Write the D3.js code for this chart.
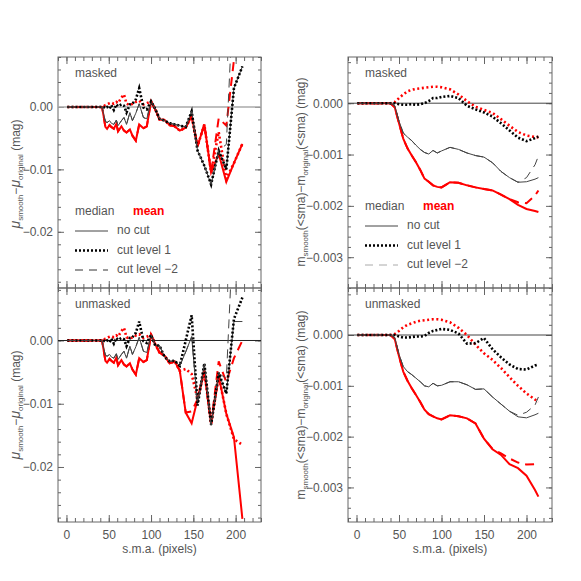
<!DOCTYPE html>
<html>
<head>
<meta charset="utf-8">
<script src="https://cdn.jsdelivr.net/npm/d3@7"></script>
<style>
  body { margin: 0; background: #fff; }
  text { font-family: "Liberation Sans", Arial, sans-serif; }
</style>
</head>
<body>
<svg id="chart" width="581" height="581"></svg>
<script>
// sma grids (pixels)
const smaLeft = [1, 10, 20, 30, 40, 42, 44, 46, 48, 51, 53, 56, 59, 61, 65, 68, 71, 75, 78, 82, 86, 91, 95, 100, 105, 110, 116, 122, 128, 134, 141, 148, 155, 163, 171, 180, 189, 198, 208]
const smaRight = [1, 10, 20, 30, 40, 45, 50, 55, 60, 65, 70, 75, 80, 85, 90, 95, 100, 110, 120, 130, 140, 150, 160, 170, 180, 190, 200, 210, 214]

// left panels: mu_smooth - mu_original, in mmag
const maskedMedianNoCut = [0, 0, 0, 0, 0, 0, -1.2, -2.3, -2.5, -2.2, -2.6, -2.8, -2.1, -3.0, -2.2, -1.7, -2.8, -0.9, -2.2, -1.0, 0.5, -1.7, -1.9, 0.9, -0.3, -1.9, -2.2, -2.6, -2.8, -3.0, -3.2, -0.7, -7.0, -9.4, -12.4, -7.0, -10.0, 3.0, 6.5]
const maskedMedianCut1 = [0, 0, 0, 0, 0, 0, 0, -0.2, 0, -0.3, 0.3, -0.5, 0.4, 0.1, 0.4, 0.2, -0.9, 0.4, 0.5, 1.2, 3.0, -0.1, -0.4, 0.9, -0.3, -1.9, -2.2, -2.6, -2.8, -3.0, -3.2, -0.7, -7.0, -9.4, -12.4, -7.0, -10.0, 3.0, 6.5]
const maskedMedianCut2 = [0, 0, 0, 0, 0, 0, -1.2, -2.3, -2.5, -2.2, -2.6, -2.8, -2.1, -3.0, -2.2, -1.7, -2.8, -0.9, -2.2, -1.0, 0.5, -1.7, -1.9, 0.9, -0.3, -1.9, -2.2, -2.6, -2.8, -3.0, -3.2, -0.7, -7.0, -9.4, -12.4, -7.0, -6.0, 20.0, null]
const maskedMeanNoCut = [0, 0, 0, 0, 0, 0, -1.5, -3.2, -3.5, -2.9, -3.2, -3.5, -2.7, -3.9, -3.1, -3.8, -4.1, -3.6, -4.6, -5.4, -2.8, -3.4, -3.1, 0.9, -0.4, -2.0, -2.1, -2.9, -3.1, -3.8, -3.3, -1.5, -6.3, -2.8, -10.5, -7.5, -12.0, -9.0, -5.9]
const maskedMeanCut1 = [0, 0, 0, 0, 0, 0, 0.1, 0.3, 0.4, 0.6, 0.7, 0.5, 0.8, 0.6, 1.5, 2.0, 0.5, 0.3, 0.5, 0.8, 1.0, 0.4, 0.6, 0.9, -0.4, -2.0, -2.1, -2.9, -3.1, -3.8, -3.3, -1.5, -6.3, -2.8, -10.5, -4.0, -11.5, -9.0, -5.9]
const maskedMeanCut2 = [0, 0, 0, 0, 0, 0, -1.5, -3.2, -3.5, -2.9, -3.2, -3.5, -2.7, -3.9, -3.1, -3.8, -4.1, -3.6, -4.6, -5.4, -2.8, -3.4, -3.1, 0.9, -0.4, -2.0, -2.1, -2.9, -3.1, -3.8, -3.3, -1.5, -6.3, -2.8, -10.5, -1.8, -3.0, 7.5, 20.0]

const unmaskedMedianNoCut = [0, 0, 0, 0, 0, 0, -1.2, -2.3, -2.5, -2.2, -2.6, -2.8, -2.1, -3.0, -2.2, -1.7, -2.8, -0.9, -2.2, -1.0, 0.5, -1.7, -1.9, 0.9, -0.8, -0.8, -2.6, -3.3, -3.2, -4.0, -1.8, 0.6, -10.0, -3.7, -13.4, -5.2, -8.4, 3.0, 3.0]
const unmaskedMedianCut1 = [0, 0, 0, 0, 0, 0, 0, -0.2, 0, -0.3, 0.3, -0.5, 0.4, 0.1, 0.4, 0.2, -0.9, 0.4, 0.5, 1.2, 3.0, -0.1, -0.4, 0.9, -0.8, -0.8, -2.6, -3.3, -3.2, -4.0, 0.0, 4.0, -10.3, -3.6, -13.3, -5.1, -8.4, 3.4, 6.8]
const unmaskedMedianCut2 = [0, 0, 0, 0, 0, 0, -1.2, -2.3, -2.5, -2.2, -2.6, -2.8, -2.1, -3.0, -2.2, -1.7, -2.8, -0.9, -2.2, -1.0, 0.5, -1.7, -1.9, 0.9, -0.8, -0.8, -2.6, -3.3, -3.2, -4.0, -1.8, 0.6, -10.0, -3.7, -13.4, -5.2, -6.0, 20.0, null]
const unmaskedMeanNoCut = [0, 0, 0, 0, 0, 0, -1.5, -3.2, -3.5, -2.9, -3.2, -3.5, -2.7, -3.9, -3.1, -3.8, -4.1, -3.6, -4.6, -5.4, -2.8, -3.4, -3.1, 0.9, -0.6, -1.9, -2.4, -3.6, -3.3, -4.8, -11.4, -13.1, -9.3, -4.8, -13.2, -5.6, -11.6, -15.3, -28.2]
const unmaskedMeanCut1 = [0, 0, 0, 0, 0, 0, 0.1, 0.3, 0.4, 0.6, 0.7, 0.5, 0.8, 0.6, 1.5, 2.0, 0.5, 0.3, 0.5, 0.8, 1.0, 0.4, 0.6, 0.9, -0.6, -1.9, -2.4, -3.6, -3.3, -4.8, -4.5, -5.3, -9.3, -4.8, -13.2, -5.6, -11.6, -15.6, -16.5]
const unmaskedMeanCut2 = [0, 0, 0, 0, 0, 0, -1.5, -3.2, -3.5, -2.9, -3.2, -3.5, -2.7, -3.9, -3.1, -3.8, -4.1, -3.6, -4.6, -5.4, -2.8, -3.4, -3.1, 0.9, -0.6, -1.9, -2.4, -3.6, -3.3, -4.8, -11.4, -11.2, -9.3, -4.8, -13.2, -3.3, -6.6, -2.8, 0.0]

// right panels: m_smooth(<sma) - m_original(<sma), in mmag
const cumMaskedMedianNoCut = [0, 0, 0, 0, 0, -0.05, -0.35, -0.58, -0.66, -0.73, -0.82, -0.90, -0.96, -0.99, -0.92, -0.97, -0.93, -0.86, -0.90, -0.97, -1.02, -1.05, -1.16, -1.33, -1.45, -1.54, -1.53, -1.48, -1.45]
const cumMaskedMedianCut1 = [0, 0, 0, 0, 0, 0, -0.02, -0.03, -0.03, -0.02, -0.03, -0.02, 0.0, 0.04, 0.10, 0.10, 0.12, 0.14, 0.10, -0.05, -0.12, -0.18, -0.26, -0.39, -0.53, -0.67, -0.74, -0.68, -0.65]
const cumMaskedMedianCut2 = [0, 0, 0, 0, 0, -0.05, -0.35, -0.58, -0.66, -0.73, -0.82, -0.90, -0.96, -0.99, -0.92, -0.97, -0.93, -0.86, -0.90, -0.97, -1.02, -1.05, -1.16, -1.33, -1.45, -1.54, -1.45, -1.20, -1.03]
const cumMaskedMeanNoCut = [0, 0, 0, 0, 0, -0.08, -0.39, -0.69, -0.88, -1.02, -1.15, -1.30, -1.47, -1.53, -1.60, -1.63, -1.64, -1.54, -1.55, -1.60, -1.64, -1.67, -1.70, -1.78, -1.87, -1.98, -2.06, -2.10, -2.12]
const cumMaskedMeanCut1 = [0, 0, 0, 0, 0, 0.02, 0.10, 0.17, 0.23, 0.26, 0.28, 0.29, 0.30, 0.31, 0.32, 0.32, 0.31, 0.27, 0.17, 0.04, -0.07, -0.13, -0.19, -0.31, -0.44, -0.56, -0.63, -0.66, -0.66]
const cumMaskedMeanCut2 = [0, 0, 0, 0, 0, -0.08, -0.39, -0.69, -0.88, -1.02, -1.15, -1.30, -1.47, -1.53, -1.60, -1.63, -1.64, -1.54, -1.55, -1.60, -1.64, -1.67, -1.70, -1.78, -1.87, -1.93, -1.95, -1.80, -1.70]

const cumUnmaskedMedianNoCut = [0, 0, 0, 0, 0, -0.05, -0.38, -0.62, -0.72, -0.78, -0.85, -0.92, -1.00, -1.02, -0.95, -1.00, -0.99, -0.92, -0.92, -0.98, -1.07, -1.06, -1.22, -1.36, -1.50, -1.61, -1.63, -1.57, -1.54]
const cumUnmaskedMedianCut1 = [0, 0, 0, 0, 0, 0, -0.03, -0.05, -0.05, -0.04, -0.03, -0.03, -0.02, 0.04, 0.08, 0.10, 0.12, 0.10, 0.03, -0.17, -0.16, -0.06, -0.28, -0.44, -0.58, -0.67, -0.68, -0.60, -0.58]
const cumUnmaskedMedianCut2 = [0, 0, 0, 0, 0, -0.05, -0.38, -0.62, -0.72, -0.78, -0.85, -0.92, -1.00, -1.02, -0.95, -1.00, -0.99, -0.92, -0.92, -0.98, -1.07, -1.06, -1.22, -1.36, -1.50, -1.58, -1.52, -1.38, -1.22]
const cumUnmaskedMeanNoCut = [0, 0, 0, 0, 0, -0.08, -0.42, -0.72, -0.90, -1.05, -1.18, -1.32, -1.47, -1.56, -1.60, -1.64, -1.66, -1.58, -1.60, -1.64, -1.74, -2.04, -2.25, -2.36, -2.54, -2.62, -2.77, -3.05, -3.18]
const cumUnmaskedMeanCut1 = [0, 0, 0, 0, 0, 0.02, 0.08, 0.15, 0.20, 0.23, 0.26, 0.28, 0.29, 0.30, 0.31, 0.31, 0.30, 0.25, 0.14, 0.0, -0.19, -0.36, -0.49, -0.65, -0.83, -1.00, -1.15, -1.27, -1.32]
const cumUnmaskedMeanCut2 = [0, 0, 0, 0, 0, -0.08, -0.42, -0.72, -0.90, -1.05, -1.18, -1.32, -1.47, -1.56, -1.60, -1.64, -1.66, -1.58, -1.60, -1.64, -1.74, -2.04, -2.24, -2.33, -2.43, -2.51, -2.55, -2.54, -2.53]

const xMajorTicks = [0, 50, 100, 150, 200]
const leftMajorTicks = [-20, -10, 0]
const rightMajorTicks = [-3, -2, -1, 0]
const legendLabels = ['no cut', 'cut level 1', 'cut level \u22122']

const svg = d3.select('#chart')

const panels = [
  { id: 'tl', x0: 58, x1: 261, y0: 57, y1: 288, yDom: [-29, 8], side: 'left', label: 'masked', xLabels: false, zero: '#aaa', zeroW: 1.6,
    sma: smaLeft, med: [maskedMedianNoCut, maskedMedianCut1, maskedMedianCut2], mean: [maskedMeanNoCut, maskedMeanCut1, maskedMeanCut2] },
  { id: 'bl', x0: 58, x1: 261, y0: 288, y1: 522, yDom: [-28.7, 8.3], side: 'left', label: 'unmasked', xLabels: true, zero: '#222', zeroW: 1,
    sma: smaLeft, med: [unmaskedMedianNoCut, unmaskedMedianCut1, unmaskedMedianCut2], mean: [unmaskedMeanNoCut, unmaskedMeanCut1, unmaskedMeanCut2] },
  { id: 'tr', x0: 348, x1: 552, y0: 57, y1: 288, yDom: [-3.6, 0.9], side: 'right', label: 'masked', xLabels: false, zero: '#444', zeroW: 1,
    sma: smaRight, med: [cumMaskedMedianNoCut, cumMaskedMedianCut1, cumMaskedMedianCut2], mean: [cumMaskedMeanNoCut, cumMaskedMeanCut1, cumMaskedMeanCut2] },
  { id: 'br', x0: 348, x1: 552, y0: 288, y1: 522, yDom: [-3.68, 0.925], side: 'right', label: 'unmasked', xLabels: true, zero: '#444', zeroW: 1,
    sma: smaRight, med: [cumUnmaskedMedianNoCut, cumUnmaskedMedianCut1, cumUnmaskedMedianCut2], mean: [cumUnmaskedMeanNoCut, cumUnmaskedMeanCut1, cumUnmaskedMeanCut2] }
]

const medStyles = [
  { color: '#444', width: 1, dash: null },
  { color: '#000', width: 2.6, dash: '2,2' },
  { color: '#444', width: 1, dash: '9,6' }
]
const meanStyles = [
  { color: '#f00', width: 2, dash: null },
  { color: '#f00', width: 2.6, dash: '2,2.6' },
  { color: '#f00', width: 2, dash: '9,6' }
]

const fmtLeft = (d) => d3.format('.2f')(d / 1000)
const fmtRight = (d) => d3.format('.3f')(d / 1000)

panels.forEach((p) => {
  const x = d3.scaleLinear().domain([-10, 230]).range([p.x0, p.x1])
  const y = d3.scaleLinear().domain(p.yDom).range([p.y1, p.y0])

  svg.append('clipPath').attr('id', 'clip-' + p.id)
    .append('rect').attr('x', p.x0).attr('y', p.y0).attr('width', p.x1 - p.x0).attr('height', p.y1 - p.y0)

  const minorY = p.side === 'left' ? d3.range(-28, 8.01, 2) : d3.range(-36, 9, 2).map((v) => v / 10)
  const majorY = p.side === 'left' ? leftMajorTicks : rightMajorTicks
  const fmtY = p.side === 'left' ? fmtLeft : fmtRight
  const minorX = d3.range(-10, 231, 10)

  const axes = [
    [d3.axisBottom(x).tickValues(minorX).tickSize(-4).tickFormat(''), `translate(0,${p.y1})`],
    [d3.axisBottom(x).tickValues(xMajorTicks).tickSize(-7).tickPadding(8).tickFormat(p.xLabels ? d3.format('d') : ''), `translate(0,${p.y1})`],
    [d3.axisTop(x).tickValues(minorX).tickSize(-4).tickFormat(''), `translate(0,${p.y0})`],
    [d3.axisTop(x).tickValues(xMajorTicks).tickSize(-7).tickFormat(''), `translate(0,${p.y0})`],
    [d3.axisLeft(y).tickValues(minorY).tickSize(-3).tickFormat(''), `translate(${p.x0},0)`],
    [d3.axisLeft(y).tickValues(majorY).tickSize(-6).tickPadding(5).tickFormat(fmtY), `translate(${p.x0},0)`],
    [d3.axisRight(y).tickValues(minorY).tickSize(-3).tickFormat(''), `translate(${p.x1},0)`],
    [d3.axisRight(y).tickValues(majorY).tickSize(-6).tickFormat(''), `translate(${p.x1},0)`]
  ]
  axes.forEach(([ax, tr]) => {
    const g = svg.append('g').attr('transform', tr).call(ax)
    g.select('.domain').remove()
    g.selectAll('line').attr('stroke', '#666')
    g.selectAll('text').attr('fill', '#555').style('font-size', '12px')
      .style('font-family', '"Liberation Sans", Arial, sans-serif')
  })

  svg.append('rect')
    .attr('x', p.x0).attr('y', p.y0)
    .attr('width', p.x1 - p.x0).attr('height', p.y1 - p.y0)
    .attr('fill', 'none').attr('stroke', '#666').attr('stroke-width', 1)

  svg.append('line')
    .attr('x1', p.x0).attr('x2', p.x1)
    .attr('y1', y(0)).attr('y2', y(0))
    .attr('stroke', p.zero).attr('stroke-width', p.zeroW)

  const line = d3.line()
    .defined((d) => d[1] !== null)
    .x((d) => x(d[0]))
    .y((d) => y(d[1]))

  const plotG = svg.append('g').attr('clip-path', `url(#clip-${p.id})`)
  const drawSeries = (vals, st) => {
    plotG.append('path')
      .datum(p.sma.map((s, i) => [s, vals[i]]))
      .attr('d', line)
      .attr('fill', 'none')
      .attr('stroke', st.color)
      .attr('stroke-width', st.width)
      .attr('stroke-dasharray', st.dash)
  }
  p.mean.forEach((vals, i) => drawSeries(vals, meanStyles[i]))
  p.med.forEach((vals, i) => drawSeries(vals, medStyles[i]))

  svg.append('text')
    .text(p.label)
    .attr('x', p.x0 + 17).attr('y', p.y0 + 20)
    .attr('fill', '#555').style('font-size', '12px')

  if (p.xLabels) {
    svg.append('text')
      .text('s.m.a. (pixels)')
      .attr('x', (p.x0 + p.x1) / 2).attr('y', 553)
      .attr('text-anchor', 'middle')
      .attr('fill', '#555').style('font-size', '12px')
  }

  // legend in the upper panels
  if (!p.xLabels) {
    const lx = p.x0 + 17
    const ly = p.side === 'left' ? 215 : 210
    svg.append('text').text('median').attr('x', lx).attr('y', ly)
      .attr('fill', '#555').style('font-size', '12px')
    svg.append('text').text('mean').attr('x', lx + 58).attr('y', ly)
      .attr('fill', '#f00').style('font-size', '12px').style('font-weight', 'bold')
    const sampleStyles = [
      { color: '#444', width: 1, dash: null },
      { color: '#000', width: 2.6, dash: '2,2' },
      { color: p.side === 'left' ? '#333' : '#aaa', width: 1, dash: '8,6' }
    ]
    legendLabels.forEach((lab, i) => {
      const yy = ly + 19 + i * 19.5
      svg.append('line')
        .attr('x1', lx).attr('x2', lx + 33)
        .attr('y1', yy - 3).attr('y2', yy - 3)
        .attr('stroke', sampleStyles[i].color)
        .attr('stroke-width', sampleStyles[i].width)
        .attr('stroke-dasharray', sampleStyles[i].dash)
      svg.append('text').text(lab).attr('x', lx + 42).attr('y', yy)
        .attr('fill', '#555').style('font-size', '12px')
    })
  }
})

// y axis titles
const yTitle = (cx, cy, parts) => {
  const t = svg.append('text')
    .attr('transform', `translate(${cx},${cy}) rotate(-90)`)
    .attr('text-anchor', 'middle')
    .attr('fill', '#555')
    .style('font-size', '12px')
  parts.forEach((part) => {
    t.append('tspan')
      .text(part.t)
      .attr('dy', part.dy || 0)
      .style('font-size', part.size || '12px')
      .style('font-style', part.italic ? 'italic' : 'normal')
  })
}

const leftTitle = [
  { t: '\u03bc', size: '14px', italic: true },
  { t: 'smooth', size: '8px', dy: 3 },
  { t: '\u2212', dy: -3 },
  { t: '\u03bc', size: '14px', italic: true },
  { t: 'original', size: '8px', dy: 3 },
  { t: ' (mag)', dy: -3 }
]
const rightTitle = [
  { t: 'm' },
  { t: 'smooth', size: '8px', dy: 3 },
  { t: '(<sma)\u2212m', dy: -3 },
  { t: 'original', size: '8px', dy: 3 },
  { t: '(<sma) (mag)', dy: -3 }
]
yTitle(20, 174, leftTitle)
yTitle(20, 405, leftTitle)
yTitle(305, 172, rightTitle)
yTitle(305, 405, rightTitle)
</script>
</body>
</html>
